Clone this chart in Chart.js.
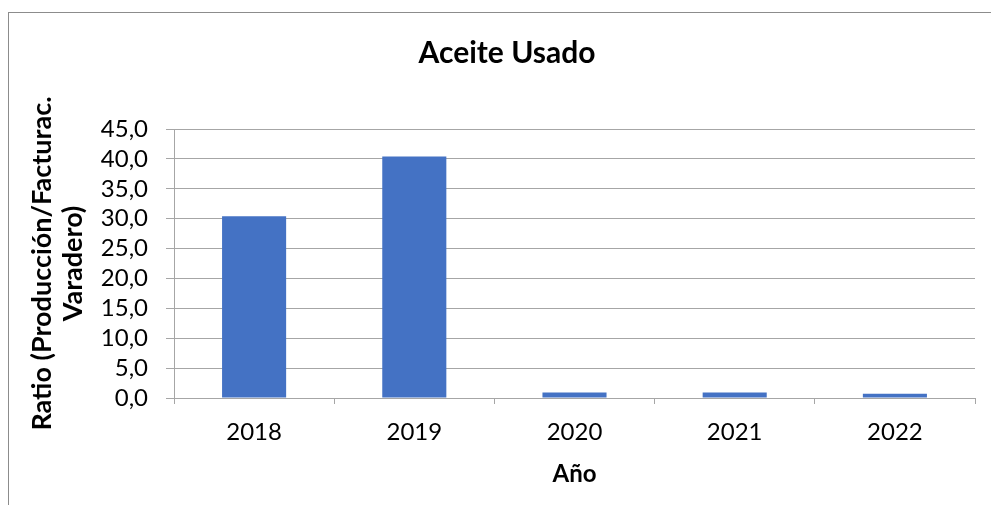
<!DOCTYPE html>
<html>
<head>
<meta charset="utf-8">
<script src="https://cdn.jsdelivr.net/npm/chart.js@4"></script>
<style>
  html, body { margin: 0; padding: 0; background: #fff; }
  #wrap { width: 991px; height: 505px; }
</style>
</head>
<body>
<div id="wrap"><canvas id="chart" width="991" height="505"></canvas></div>
<script>
// data
const years = ['2018', '2019', '2020', '2021', '2022'];
const ratios = [30.4, 40.4, 0.9, 0.9, 0.7];
const chartTitle = 'Aceite Usado';
const yTitle = ['Ratio (Producción/Facturac.', 'Varadero)'];
const xTitle = 'Año';

const gridColor = '#a6a6a6';
const fontName = 'Lato, "Open Sans", sans-serif';

// outer frame of the chart (only left and top edges are visible)
const framePlugin = {
    id: 'frame',
    beforeDraw(chart) {
        const ctx = chart.ctx;
        ctx.save();
        ctx.strokeStyle = '#8c8c8c';
        ctx.lineWidth = 1;
        ctx.strokeRect(8.5, 12.5, 1100, 1100);
        ctx.restore();
    }
};

const ctx = document.getElementById('chart').getContext('2d');

new Chart(ctx, {
    type: 'bar',
    data: {
        labels: years,
        datasets: [{
            label: chartTitle,
            data: ratios,
            backgroundColor: '#4472c4',
            borderWidth: 0,
            barPercentage: 0.4,
            categoryPercentage: 1.0,
        }],
    },
    options: {
        responsive: false,
        animation: false,
        layout: {
            padding: { left: 39, right: 16, top: 0, bottom: 0 },
        },
        plugins: {
            legend: { display: false },
            tooltip: { enabled: false },
            title: {
                display: true,
                text: chartTitle,
                color: '#000',
                font: { family: fontName, size: 30, weight: 'bold', lineHeight: 1.2 },
                padding: { top: 35, bottom: 58 },
            },
        },
        scales: {
            x: {
                grid: {
                    drawOnChartArea: false,
                    drawTicks: true,
                    tickLength: 6,
                    color: gridColor,
                },
                border: { color: gridColor, width: 1 },
                ticks: {
                    color: '#000',
                    padding: 14,
                    font: { family: fontName, size: 24 },
                },
                title: {
                    display: true,
                    text: xTitle,
                    color: '#000',
                    font: { family: fontName, size: 24, weight: 'bold', lineHeight: 1.25 },
                    padding: { top: 0, bottom: 16 },
                },
                afterFit(scale) {
                    scale.height = 107;
                },
            },
            y: {
                min: 0,
                max: 45,
                grid: {
                    color: gridColor,
                    tickLength: 8,
                },
                border: { color: gridColor, width: 1 },
                ticks: {
                    stepSize: 5,
                    autoSkip: false,
                    color: '#000',
                    padding: 18,
                    font: { family: fontName, size: 24 },
                    callback: (v) => v.toFixed(1).replace('.', ','),
                },
                title: {
                    display: true,
                    text: yTitle,
                    color: '#000',
                    font: { family: fontName, size: 27, weight: 'bold', lineHeight: 1.15 },
                    padding: { top: -12, bottom: 0 },
                },
                afterFit(scale) {
                    scale.width = 135;
                },
            },
        },
    },
    plugins: [framePlugin],
});
</script>
</body>
</html>
